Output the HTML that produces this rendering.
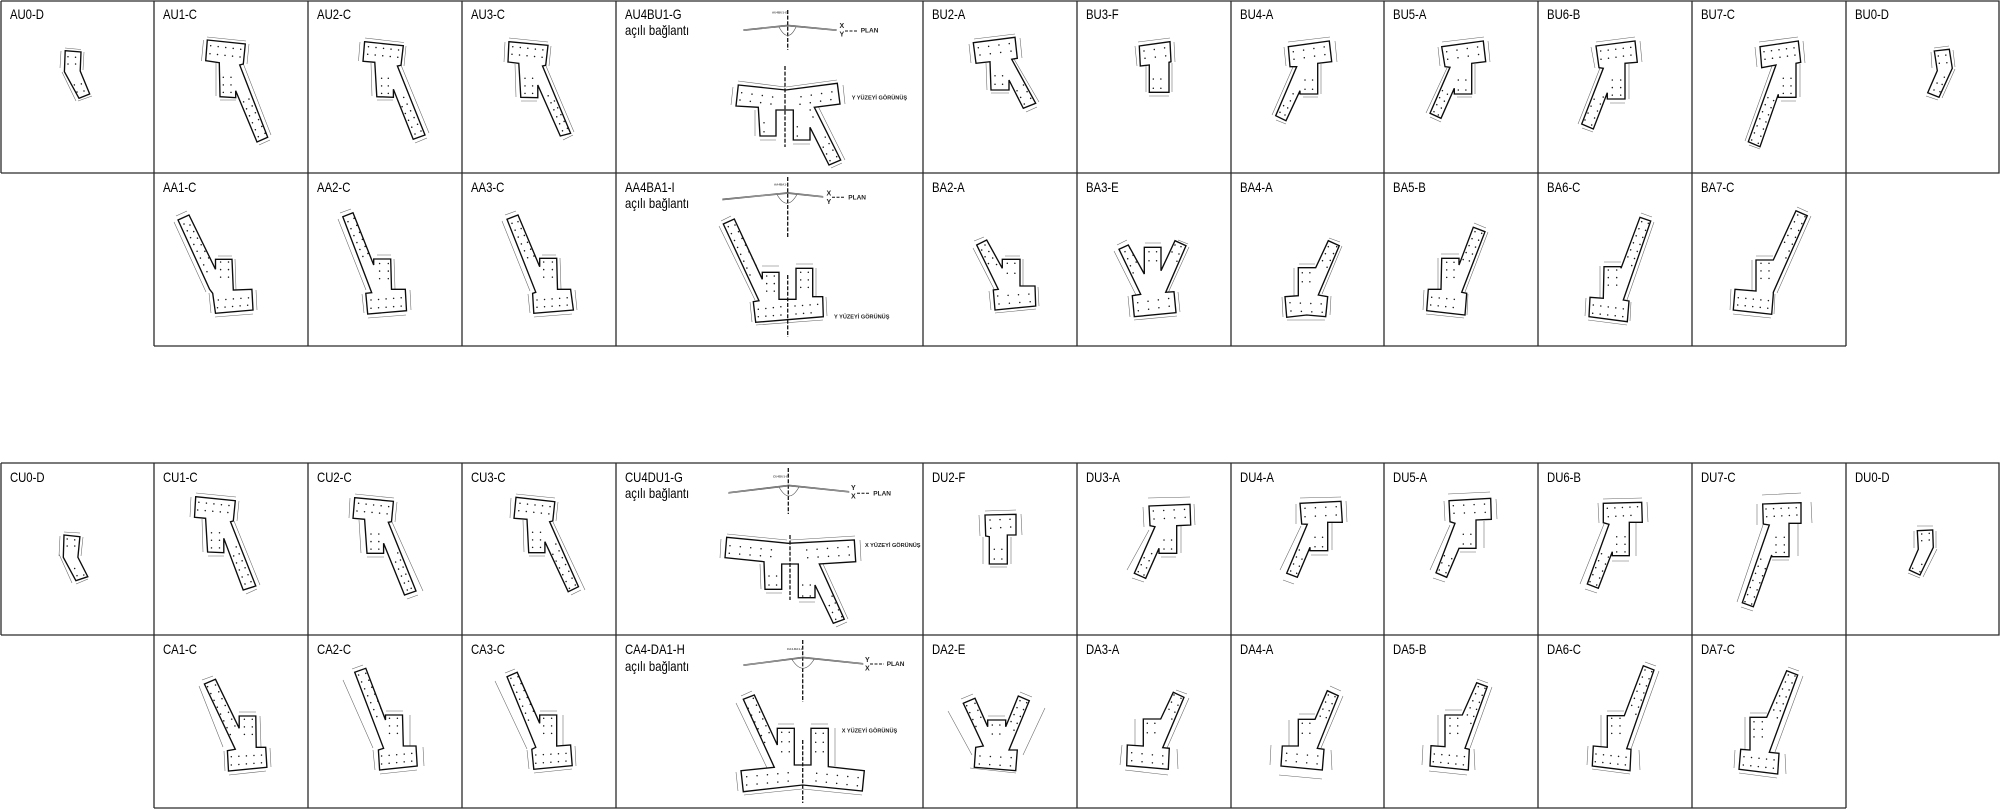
<!DOCTYPE html>
<html><head><meta charset="utf-8"><style>
html,body{margin:0;padding:0;background:#fff}
svg{display:block}
.g{fill:none;stroke:#2b2b2b;stroke-width:1.3}
.o{fill:#fff;stroke:#0c0c0c;stroke-width:1.35;stroke-linejoin:miter}
.a,.b{fill:none;stroke:#1a1a1a;stroke-width:1.5;stroke-linecap:round}
.a{stroke-dasharray:.01 7.55}
.b{stroke-dasharray:.01 10.4}
.m{fill:none;stroke:#666;stroke-width:.55}
.c{fill:none;stroke:#111;stroke-width:1.3;stroke-dasharray:4 1.6}
.p{fill:none;stroke:#555;stroke-width:.65}
.t text{font:14px "Liberation Sans",sans-serif;fill:#000}
.s{font:bold 5.6px "Liberation Sans",sans-serif;fill:#222}
.n{font:bold 7px "Liberation Sans",sans-serif;fill:#222}
.y{font:bold 3px "Liberation Sans",sans-serif;fill:#444}
</style></head><body>
<svg xmlns="http://www.w3.org/2000/svg" width="2000" height="809" viewBox="0 0 2000 809">
<rect width="2000" height="809" fill="#fff"/>
<path class="g" d="M1 1H1999V173H1M1 1V173M154 1V346M308 1V346M462 1V346M616 1V346M923 1V346M1077 1V346M1231 1V346M1384 1V346M1538 1V346M1692 1V346M1846 1V346M154 346H1846"/>
<path class="g" d="M1 463H1999V635H1M1 463V635M154 463V808M308 463V808M462 463V808M616 463V808M923 463V808M1077 463V808M1231 463V808M1384 463V808M1538 463V808M1692 463V808M1846 463V808M154 808H1846"/>

<g class="t" transform="scale(.81 1)">
<text x="12.3" y="19">AU0-D</text><text x="201.2" y="19">AU1-C</text><text x="391.4" y="19">AU2-C</text><text x="581.5" y="19">AU3-C</text><text x="771.6" y="19">AU4BU1-G</text><text x="771.6" y="35">açılı bağlantı</text><text x="1150.6" y="19">BU2-A</text><text x="1340.7" y="19">BU3-F</text><text x="1530.9" y="19">BU4-A</text><text x="1719.8" y="19">BU5-A</text><text x="1909.9" y="19">BU6-B</text><text x="2100" y="19">BU7-C</text><text x="2290.1" y="19">BU0-D</text>
<text x="201.2" y="192">AA1-C</text><text x="391.4" y="192">AA2-C</text><text x="581.5" y="192">AA3-C</text><text x="771.6" y="192">AA4BA1-I</text><text x="771.6" y="208">açılı bağlantı</text><text x="1150.6" y="192">BA2-A</text><text x="1340.7" y="192">BA3-E</text><text x="1530.9" y="192">BA4-A</text><text x="1719.8" y="192">BA5-B</text><text x="1909.9" y="192">BA6-C</text><text x="2100" y="192">BA7-C</text>
<text x="12.3" y="482">CU0-D</text><text x="201.2" y="482">CU1-C</text><text x="391.4" y="482">CU2-C</text><text x="581.5" y="482">CU3-C</text><text x="771.6" y="482">CU4DU1-G</text><text x="771.6" y="498">açılı bağlantı</text><text x="1150.6" y="482">DU2-F</text><text x="1340.7" y="482">DU3-A</text><text x="1530.9" y="482">DU4-A</text><text x="1719.8" y="482">DU5-A</text><text x="1909.9" y="482">DU6-B</text><text x="2100" y="482">DU7-C</text><text x="2290.1" y="482">DU0-D</text>
<text x="201.2" y="654">CA1-C</text><text x="391.4" y="654">CA2-C</text><text x="581.5" y="654">CA3-C</text><text x="771.6" y="654">CA4-DA1-H</text><text x="771.6" y="671">açılı bağlantı</text><text x="1150.6" y="654">DA2-E</text><text x="1340.7" y="654">DA3-A</text><text x="1530.9" y="654">DA4-A</text><text x="1719.8" y="654">DA5-B</text><text x="1909.9" y="654">DA6-C</text><text x="2100" y="654">DA7-C</text>
</g>

<!-- Row 1 -->
<path class="m" d="M65 48L81 49.5M61 51L60 68M62 72L76 101M84 52L83 70M78 101L92 96"/>
<polygon class="o" points="65.2,50.7 81,52 80.2,71 89.7,94 79,98.3 64.4,71.7"/>
<path class="a" d="M68 56.7L76 57.3M68 64L76 64M84 91L81 83M77 92L74 84"/>

<path class="m" d="M207 37L246 41M203.5 40L201.5 61M249 44L247 64M216 63L216 96M220 100L236 100M243 63L271 135M259 145L270 140"/>
<polygon class="o" points="207.3,40 245.3,44 243.3,64 239.7,65 267.7,137.3 257,142 235.7,90.7 235.7,97.7 220,96.7 219.3,62.7 205.7,60.7"/>
<path class="a" d="M210.7 45.7L241 49.3M210 53.7L240.4 57M223.3 77.3L223.3 93M231 77.3L231 93M265 133.3L246 92.7M258.3 136.7L242 98"/>

<path class="m" d="M365 38L404 42.5M360 42L358.5 61M406 46L404 66M371 63L372 96M377 100L393 100M401 65L429 133M415 143L427 138"/>
<polygon class="o" points="364.6,41.7 403.3,45.7 401,65.3 397.4,66 425,135 413.2,139.3 393.4,89.3 393.4,97.3 376.8,96.7 374.8,62.3 363,61.3"/>
<path class="a" d="M368.5 46.7L399 50M367.7 54.3L398 57.3M381.6 78.3L381.6 94M388.3 78.3L388.3 94M421 131L403 96M415 134L399 100"/>

<path class="m" d="M509 38L548 42M505 42L504 62M551 46L549 66M515 64L516 97M521 101L537 101M546 66L574 132M563 140L573 135"/>
<polygon class="o" points="508.9,41.7 548,45.3 545.7,65.3 542.5,66 570.6,133.3 560.3,136 537.8,85 537.8,97.7 520.8,97.3 518.8,63.3 508,62"/>
<path class="a" d="M512.8 46.7L543.7 50M512 54.3L542.5 57.3M525 78.3L525 94M532.6 78.3L532.6 94M567.4 128.3L551.6 95M562.5 130.8L547 93"/>

<path class="m" d="M738 81L785 87M786 87L837 80M733 87L731 105M843 85L845 104M755 110L755 136M760 140L776 140M793 144L810 144M818 106L845 160M831 168L842 163"/>
<polygon class="o" points="738.3,85 785.7,90 837.3,83.3 840,104 814.3,107.3 840.7,160 829,165 810,127.3 810,140 793.3,140 793.3,110 776,110 776,136 760,136 758.3,107.3 736,106"/>
<path class="b" d="M741.7 92.7L775 97.3M740 100L773.3 104.3M801 96.7L833.3 91.7M800 104.3L832.7 99.3M764 122.7L772.5 122.7M764 131.7L772.5 131.7M797.3 126.7L805.5 126.7M797.3 136L805.5 136"/>
<path class="a" d="M836.7 156.7L825 136.7M830 160.7L823 146.7M813 117L809 107"/>
<path class="c" d="M785 66V147M787.7 10V50"/>
<path class="p" d="M743.3 30.7L787.7 26L836.7 30.7M743.3 29.7L787.7 25L836.7 29.7M779 27Q788 44 796 27"/>
<text class="y" x="772" y="13.5">AU4BU1-G</text>
<text class="n" x="839.5" y="28">X</text><text class="n" x="839.5" y="36.5">Y</text>
<path d="M845 31H857" stroke="#111" stroke-width="1" stroke-dasharray="3 1.5"/>
<text class="s" x="860.7" y="32.5" style="font-size:6.5px">PLAN</text>
<text class="s" x="851.7" y="99.5">Y YÜZEYİ GÖRÜNÜŞ</text>

<path class="m" d="M974 39L1015 34M969 44L971 63M1020 38L1022 58M986 63L987 90M991 93L1009 93M1014 59L1039 102M1026 112L1037 107"/>
<polygon class="o" points="973.3,42.7 1015,37.3 1017.3,58.3 1011.7,59.3 1035.7,103.3 1023.3,108.3 1009,80 1009,90 991,90 990,61.7 976,63.3"/>
<path class="b" d="M978.3 47.7L1011.7 43.3M980 55L1012.3 51"/>
<path class="a" d="M995 75.7L1003 75.7M995 84.3L1003 84.3M1030.7 98.3L1021.7 81.7M1024.3 104L1015.7 88.3"/>

<path class="m" d="M1138 42L1170 38M1135 46L1137 66M1174 42L1175 62M1146 66L1146 92M1149 96L1169 96M1172 63L1172 92"/>
<polygon class="o" points="1139.3,46 1170,41.7 1171,61.7 1169,62.3 1169,92.3 1149.3,92.3 1149.3,65 1140.3,66"/>
<path class="b" d="M1144 51L1166 47.7M1145 58.3L1167 55.7"/>
<path class="a" d="M1153.3 79L1161.7 79M1153.3 88.3L1161.7 88.3"/>

<path class="m" d="M1288 42L1330 37M1284 47L1286 66M1335 41L1337 62M1321 64L1321 94M1303 97L1318 97M1293 67L1272 115M1276 120L1286 124"/>
<polygon class="o" points="1288.3,46.7 1329.3,41 1331.7,61.7 1317.7,63.3 1317.7,94 1300,94 1300,90.7 1286,120.7 1275.7,115.7 1296.7,66.7 1290,66.7"/>
<path class="b" d="M1293.3 51.7L1325.7 46.7M1294 59.3L1326.7 54.3"/>
<path class="a" d="M1305 80L1313 80M1305 89.3L1313 89.3M1285 115L1293.3 93.3M1280 112.3L1286.7 100"/>

<path class="m" d="M1442 42L1484 37M1438 47L1440 66M1488 41L1490 62M1475 64L1475 94M1457 97L1472 97M1447 68L1426 113M1430 117L1441 122"/>
<polygon class="o" points="1441.7,46.7 1483.3,41 1485.7,61.7 1471.7,63.3 1471.7,94 1454.3,94 1454.3,88.3 1441,118.3 1430,113.3 1450,67.3 1445,66.7"/>
<path class="b" d="M1446.7 51.7L1479.3 46.7M1447.7 59.3L1480 54.3"/>
<path class="a" d="M1458.3 80L1466.7 80M1458.3 90L1466.7 90M1438.3 115L1450 88.3M1434 111.7L1442.7 90"/>

<path class="m" d="M1596 42L1635 37M1591 47L1595 68M1640 41L1642 62M1629 64L1629 99M1610 103L1625 103M1600 68L1578 124M1582 128L1593 132"/>
<polygon class="o" points="1596,46 1635,41 1637.3,62.3 1625,63.3 1625,99 1607.3,99 1607.3,92.7 1593.3,129 1581.7,124 1603.3,68.3 1599,67.7"/>
<path class="a" d="M1600.7 51L1631.7 47.3M1601 59.3L1631.7 55M1612.3 80L1612.3 96M1620.7 80L1620.7 96M1591.7 125L1605 92.7M1585 120L1596.7 93.3"/>

<path class="m" d="M1759 42L1798 37M1755 47L1757 67M1803 41L1805 63M1800 64L1800 97M1781 101L1796 101M1772 66L1745 141M1749 145L1760 149"/>
<polygon class="o" points="1760,46.7 1798.3,41 1800.7,62.3 1796,63.3 1796,97.3 1778.3,97.3 1778.3,94.3 1760,146.7 1748.3,141.7 1776,65 1761.7,67.7"/>
<path class="a" d="M1764 51.7L1795 47.7M1765 59.3L1795.7 55M1783.3 78.3L1783.3 94.5M1791 78.3L1791 94.5M1758.3 143.3L1775 96.7M1751.7 140L1768.3 96.7"/>

<path class="m" d="M1934 48L1949 46M1931 52L1932 68M1953 50L1955 67M1955 69L1942 98M1926 96L1938 100"/>
<polygon class="o" points="1934.3,51 1949.3,49.3 1952.3,68.3 1939,97.3 1927.7,92.7 1937.3,70.7"/>
<path class="a" d="M1938.3 56L1946.7 55M1939.3 63.3L1947.3 62.7M1940 91.7L1945 75M1934 90L1938 81"/>

<!-- Row 2 -->
<path class="m" d="M176 216L187 211M174 222L206 292M218 256L232 256M235 259L236 290M256 290L257 310M215 317L253 314M209 293L211 313"/>
<polygon class="o" points="178,220 189,215 215.5,269.3 215.5,259.3 232,259.3 233.3,290 251.9,289.3 253,310 215.5,313.3 212.7,293.3 209.6,289.3"/>
<path class="a" d="M218.3 300L250.3 297.7M217.5 307.7L250.3 305M220.6 262L220.6 278.5M228.5 262L228.5 278.5M184 224L207.6 273M190 225L211.5 263"/>

<path class="m" d="M340 213L351 209M338 219L366 290M377 255L391 255M394 259L395 289M410 290L411 310M368 318L406 315M362 294L364 313"/>
<polygon class="o" points="342.8,216.7 353,212.7 373.7,265 373.7,259 390.7,259 391.5,289.3 405.3,289.3 406.5,310.7 367.7,314 365.8,293.3 371.7,292.7"/>
<path class="a" d="M371 300L402.5 297.7M371 308.3L402.5 306M379.6 263.5L379.6 279M388.3 263.5L388.3 279M348 221.7L365.8 263.3M354 218.3L369.7 258"/>

<path class="m" d="M505 215L516 211M502 221L530 291M542 255L556 255M560 258L561 289M575 290L577 310M534 317L572 314M528 294L530 313"/>
<polygon class="o" points="507,219.3 518,215 539.7,266.7 539.7,258.3 556.7,258.3 557.5,289.3 570.6,289.3 573.4,310 533.8,313.3 532.6,293.3 535.8,292.3"/>
<path class="a" d="M537 300L568.6 297.7M537 307.3L568.6 305M543.7 262L543.7 278.5M552.4 262L552.4 278.5M512 223.3L530 263M518 221.7L535.7 260"/>

<path class="m" d="M721 221L731 216M719 226L755 300M762 266L779 266M796 264L813 264M816 268L816 296M826 297L827 316M750 302L752 322M756 325L823 320"/>
<polygon class="o" points="723.3,224 734.3,219 762.3,279.3 762.3,272.3 779,272.3 779,299.3 796,299.3 796,268.3 812.7,268.3 812.7,296.7 822.7,296.7 823.3,316.7 755.7,322.3 753.3,301.7 759,300.7"/>
<path class="a" d="M758.3 309.3L781.7 306.7M758.3 316.7L781.7 315M795 306L818.3 304.3M796 314L818.3 312.3M766.7 276L766.7 292M774.3 276L774.3 292M800.7 272.3L800.7 289.5M808.3 272.3L808.3 289.5M728.3 226.7L750 275M735 225L756.7 266.7"/>
<path class="c" d="M787.7 275V337M787.7 177V238"/>
<path class="p" d="M722.3 200L787.7 193.5L823.3 197.3M722.3 199L787.7 192.5L823.3 196.3M777 194.5Q787 212 797 194.5"/>
<text class="y" x="774" y="185.5">AA4BA1-I</text>
<text class="n" x="826.5" y="195.5">X</text><text class="n" x="826.5" y="204">Y</text>
<path d="M832 197.3H845" stroke="#111" stroke-width="1" stroke-dasharray="3 1.5"/>
<text class="s" x="848.3" y="199.5" style="font-size:6.5px">PLAN</text>
<text class="s" x="834" y="318.5">Y YÜZEYİ GÖRÜNÜŞ</text>

<path class="m" d="M974 241L984 237M973 248L995 291M1005 256L1020 256M1023 259L1023 286M1038 287L1039 306M989 291L991 310M995 313L1036 309"/>
<polygon class="o" points="976.7,245 986.7,240 1002.3,268.3 1002.3,259.3 1020,259.3 1020,286 1035,286 1035.7,306 995,310 993.3,290 998.3,289.3"/>
<path class="b" d="M997.7 296L1030.7 294M999 304L1030.7 301.7"/>
<path class="a" d="M1007.3 263.3L1015 263.3M1007.3 273.3L1015 273.3M985 245L998 267M981.7 250L990 266.7"/>

<path class="m" d="M1117 245L1127 240M1114 251L1136 295M1145 243L1161 243M1178 240L1188 244M1189 247L1168 293M1178 292L1180 312M1128 296L1130 317M1134 320L1177 316"/>
<polygon class="o" points="1119,249.3 1128.3,245 1144.3,274 1144.3,247.3 1161,247.3 1161,270.7 1175,240.7 1186,245.7 1165.7,292.3 1174,291.7 1176,312.7 1134.3,316.7 1132.3,295.7 1140.7,294.3"/>
<path class="b" d="M1137.7 302.7L1170 298.3M1138.3 310.7L1170.7 306"/>
<path class="a" d="M1149 251.7L1157.3 251.7M1149 260.7L1157.3 260.7M1125 251.7L1133.3 273.3M1130 248.3L1136.7 263.3M1181 246.7L1175 268.3M1175 245L1169.3 258.3"/>

<path class="m" d="M1299 264L1315 264M1294 268L1294 296M1282 297L1283 317M1331 296L1330 315M1287 320L1325 320M1329 238L1340 242M1342 246L1322 294"/>
<polygon class="o" points="1285,296.7 1298.3,295.7 1298.3,267.7 1315.7,267.7 1328.3,240.7 1339.3,245.7 1318.3,295 1327.7,296.7 1325.7,316.7 1306.7,315 1286.7,317.3"/>
<path class="b" d="M1290 302.7L1323.3 304M1291 311L1323.3 312.3"/>
<path class="a" d="M1302.3 272.7L1310.7 272.7M1302.3 281.7L1310.7 281.7M1336.7 246.7L1325 271.7M1328.3 246.7L1320 266.7"/>

<path class="m" d="M1441 254L1459 254M1438 258L1438 289M1424 290L1423 310M1426 314L1464 318M1468 294L1467 315M1474 223L1486 228M1488 232L1465 292"/>
<polygon class="o" points="1428.3,289.3 1441,289.3 1441.7,258.3 1459,258.3 1459,265 1473.3,227.3 1485,231.7 1461.7,292.3 1466.7,293.3 1465,315 1426.7,310.7"/>
<path class="a" d="M1431.7 297.3L1461.7 300M1430.7 305L1460.7 308.3M1446.7 262.3L1446.7 278M1454 262.3L1454 278M1481.7 233.3L1468.3 263.3M1475 231.7L1463 260"/>

<path class="m" d="M1604 262L1621 262M1600 266L1600 298M1586 298L1585 316M1588 320L1627 325M1631 302L1630 321M1641 213L1652 217M1654 222L1627 300"/>
<polygon class="o" points="1590,297.3 1603.3,298.3 1604,266.7 1621,266.7 1621,268.3 1640,217.3 1650.7,221 1623.3,300 1629,301 1627.3,321.7 1589,316.7"/>
<path class="a" d="M1593.3 305L1624.3 309M1592.7 313.3L1623.3 316.7M1608.3 270L1608.3 286.5M1616.7 270L1616.7 286.5M1648.3 223.3L1630 270M1641.7 221.7L1626.7 260"/>

<path class="m" d="M1756 256L1773 256M1752 260L1752 291M1731 289L1730 310M1733 314L1771 318M1775 294L1774 314M1797 207L1808 212M1811 216L1777 293"/>
<polygon class="o" points="1735,289.3 1756,291 1756,260 1773.3,260 1796,210.7 1807.3,215.7 1773.3,292.3 1773.3,294.3 1771.7,314.3 1733.3,310"/>
<path class="a" d="M1738.3 297.7L1769.3 300.7M1737.7 305L1768.7 308.3M1761 263.3L1761 279M1769 263.3L1769 279M1805 216.7L1785 260M1797.7 215L1781.7 248.3"/>

<!-- Row 3 -->
<path class="m" d="M64 532L80 533M60 536L59 556M83 537L81 556M59 554L72 583M76 584L88 579"/>
<polygon class="o" points="64,535 79.9,536.7 77.9,557.3 87.8,576.7 75.9,580.7 63.3,557.3"/>
<path class="a" d="M67.2 539L75.9 540M67.2 546L75 546M83.8 575L81 569.3M77 575.7L74.3 567.3"/>

<path class="m" d="M196 493L236 497M191 497L190 517M239 501L237 521M202 519L203 552M208 556L224 556M234 521L260 585M246 594L257 589"/>
<polygon class="o" points="195.7,496.7 235.3,500.7 233.3,521 230.5,521.7 255.8,586 243.2,590 223.8,538.3 223.8,552.7 207.6,552 205.6,518.3 194.5,517.3"/>
<path class="a" d="M198.9 502.3L230.5 505.7M197.7 510L230 512.7M211.5 532.7L211.5 549M219.5 532.7L219.5 549M251 581.7L233.3 540M245 584L231.3 550"/>

<path class="m" d="M355 494L394 498M350 498L349 518M397 502L395 522M359 520L361 553M367 557L384 557M392 522L423 591M407 599L418 595"/>
<polygon class="o" points="354.7,497.7 393.4,501.3 391.5,521.7 388.3,522.3 416,591 404.5,595 383.6,543.3 383.6,553.3 367,553.3 364.6,519.3 353,518.3"/>
<path class="a" d="M358.6 503.3L389.5 506.7M357 511L388.7 514M371 534L371 550M378.8 534L378.8 550M411.2 588.3L395.4 546.7M407.3 590L393.4 556.7"/>

<path class="m" d="M516 494L555 498M511 498L510 518M558 502L556 521M523 520L524 552M529 556L545 556M553 522L585 590M571 595L581 590"/>
<polygon class="o" points="516,497.3 554.8,501.7 552.8,521 549.6,521.7 578.5,586.7 568.2,591.7 544.9,541.7 544.9,552.7 528.7,552.7 527,519.3 514,518.3"/>
<path class="a" d="M520 503.3L550.8 506.7M518.8 510.7L549.6 514M532.6 532.3L532.6 548.5M540.5 532.3L540.5 548.5M575.3 585L555.5 543.3M569.4 588.3L551.6 551.7"/>

<path class="m" d="M727 534L787 540M790 540L855 536M860 540L861 561M721 539L720 558M760 564L761 589M766 593L782 593M799 602L815 602M823 564L848 619M836 627L847 622"/>
<polygon class="o" points="726.7,537.3 788.3,543.3 854.3,540 855.7,561.7 819.3,564 844.3,619.3 833.3,623.3 815,585 815,597.7 798.3,597.7 798.3,564 781.7,564 781.7,589.3 765,589.3 764,561.7 725,557.7"/>
<path class="b" d="M730 545.7L773.3 550M729.3 553.3L772.3 556.7M806.7 550L850 546.7M807.7 557.7L850 555"/>
<path class="a" d="M769 576L777.7 576M769 585L777.7 585M802.7 585L811.7 585M802.7 596L811.7 596M841.7 616.7L830 591.7M835.7 619.3L826.7 600"/>
<path class="c" d="M790 535V600M788.3 468V514"/>
<path class="p" d="M728.3 493.3L789 486L849.3 492.3M728.3 492.3L789 485L849.3 491.3M779 487Q789 505 799 487"/>
<text class="y" x="773" y="477.5">CU4DU1-G</text>
<text class="n" x="851" y="490">Y</text><text class="n" x="851" y="498.5">X</text>
<path d="M857 493.3H870" stroke="#111" stroke-width="1" stroke-dasharray="3 1.5"/>
<text class="s" x="873.3" y="495.5" style="font-size:6.5px">PLAN</text>
<text class="s" x="865" y="547">X YÜZEYİ GÖRÜNÜŞ</text>

<path class="m" d="M985 511L1016 510M979 515L980 536M1021 514L1022 535M983 537L983 564M1011 537L1011 564M990 567L1007 567"/>
<polygon class="o" points="985,515 1016,514.3 1016,535 1007.3,535 1007.3,564 989.3,564 989.3,536.7 985.7,536"/>
<path class="b" style="stroke-dasharray:.01 10" d="M990 520L1010.3 519.3M990.7 528.3L1011.3 527"/>
<path class="a" d="M994.3 549.3L1002.3 549.3M994.3 559L1002.3 559"/>

<path class="m" d="M1148 498L1190 497M1143 507L1144 527M1194 504L1195 525M1181 526L1181 553M1161 557L1176 557M1149 530L1127 570M1132 578L1144 582"/>
<polygon class="o" points="1149,506 1190,504.3 1190.7,525 1176.7,525.7 1176.7,553.3 1159,553.3 1159,548.3 1145.7,578.3 1134.3,573.3 1155,526.7 1150,525.7"/>
<path class="b" d="M1153.3 511L1185.7 509.3M1154 519L1186 517.3"/>
<path class="a" d="M1164 540L1172 540M1164 549L1172 549M1144 575L1152.7 550.7M1138.3 571.7L1146.7 551.7"/>

<path class="m" d="M1300 498L1341 497M1296 504L1296 524M1346 501L1347 522M1332 523L1332 550M1311 555L1328 555M1301 526L1280 570M1283 580L1294 584"/>
<polygon class="o" points="1300,503.3 1341,501.3 1342.3,522.3 1327.7,522.3 1327.7,550.7 1310,550.7 1310,547.3 1297.3,577.3 1286.7,573.3 1307.3,524.3 1301.7,524"/>
<path class="b" d="M1305 508.3L1337.3 506.7M1305 516.7L1337.3 515"/>
<path class="a" d="M1315 537.3L1323.3 537.3M1315 546.7L1323.3 546.7M1296.7 573.3L1302.3 558.3M1290.7 571L1299.3 550"/>

<path class="m" d="M1448 494L1490 492M1444 501L1445 521M1496 499L1497 519M1484 521L1484 548M1460 552L1476 552M1450 525L1430 570M1433 578L1445 582"/>
<polygon class="o" points="1449,500.7 1490.7,498.3 1491.3,519.3 1476,520 1476,548.3 1459,548.3 1446.7,577.3 1436,572.7 1455,523.3 1450,521.7"/>
<path class="b" d="M1453.3 505.7L1486 504M1454 513.3L1486.7 512.3"/>
<path class="a" d="M1463.3 534.3L1471 534.3M1463.3 544L1471 544M1446 572.7L1453.3 555M1439.3 570L1446.7 549.3"/>

<path class="m" d="M1603 499L1642 498M1598 503L1599 523M1647 502L1648 522M1636 523L1636 556M1612 561L1629 561M1604 524L1580 584M1585 589L1597 593"/>
<polygon class="o" points="1603.3,503.3 1641.7,502.3 1642.3,522.3 1629.3,522.3 1629.3,555.7 1612.3,555.7 1612.3,551.7 1598.3,588.3 1587.3,584 1609,524.3 1603.3,522.7"/>
<path class="a" d="M1607.3 508.3L1638.3 506.7M1608.3 516.7L1638.3 515M1616.7 536.7L1616.7 553M1625 536.7L1625 553M1596.7 585L1610 553.3M1590 581.7L1601.7 553.3"/>

<path class="m" d="M1762 495L1801 493M1757 504L1757 525M1811 502L1812 523M1798 523L1798 556M1772 560L1789 560M1763 525L1737 602M1741 607L1753 611"/>
<polygon class="o" points="1762.7,504 1801,502.7 1801,523.3 1789,523.3 1789,556.7 1771.7,556.7 1771.7,555 1753.3,606.7 1742.3,602.7 1769.3,525 1763.3,524"/>
<path class="a" d="M1766 509L1797.3 507.7M1766.7 516.7L1797.7 515M1776 537.3L1776 553.5M1784.3 537.3L1784.3 553.5M1751.7 604L1766.7 565M1745 601.7L1761.7 556.7"/>

<path class="m" d="M1917 526L1933 526M1914 531L1914 548M1936 531L1936 548M1937 549L1923 577M1908 573L1920 578"/>
<polygon class="o" points="1917.3,530.7 1932.7,530 1933.3,547.3 1920,575 1909.3,570 1918.3,549.3"/>
<path class="a" d="M1921.7 534L1930 533.3M1921.7 540.7L1929.3 540M1920 571.7L1923.3 558.3M1912.7 568.3L1916.7 563.3"/>

<!-- Row 4 -->
<path class="m" d="M202 680L213 676M199 686L223 747M239 712L256 712M260 716L261 747M270 748L271 767M229 775L266 771M224 751L225 771"/>
<polygon class="o" points="204.4,684 215.5,679.3 239.2,728.3 239.2,716 255.8,716 256.2,747.3 265.7,747.3 266.9,767.3 228.5,771 227.4,750.7 235.3,749.3"/>
<path class="a" d="M231.3 756.7L263.7 755M231.3 765L263 762.7M244.4 719.3L244.4 736M252.3 719.3L252.3 736M207.6 686.7L231.3 736.7M215.5 685L235.3 726.7"/>

<path class="m" d="M352 669L363 665M343 680L373 748M386 711L403 711M410 715L410 746M423 747L424 766M380 774L417 770M373 750L375 770"/>
<polygon class="o" points="354.7,672.3 365.8,668.3 385.5,720 385.5,715 402.5,715 403.3,746 416,746 417.2,766 379.6,770 378.4,750 383.6,748.3"/>
<path class="a" d="M381.6 756L413.2 753.3M381.6 764L413.2 761M389.5 718.3L389.5 734.5M397.4 718.3L397.4 734.5M358.6 675L377.6 718.3M365.8 673.3L381.6 710"/>

<path class="m" d="M505 673L515 669M495 681L527 749M540 711L557 711M563 715L563 746M575 746L576 766M534 773L572 769M527 750L529 769"/>
<polygon class="o" points="507,676.7 517.2,672.3 539.7,723.3 539.7,715 556.7,715 556.7,746 570.6,745 572.2,765.7 533.8,769.3 531.8,749.3 535.8,747.3"/>
<path class="a" d="M535.8 755L567.4 753.3M535.8 763.3L567.4 761M543.7 718.3L543.7 735M551.6 718.3L551.6 735M510.9 678.3L529.8 723.3M518 676.7L535.8 716.7"/>

<path class="m" d="M741 696L752 691M736 703L768 770M778 724L794 724M811 724L828 724M835 728L835 766M736 772L738 791M744 795L802 789M803 789L862 795"/>
<polygon class="o" points="743.3,699.3 754.3,695 777.3,745 777.3,728.3 794.3,728.3 794.3,765 811,765 811,728.3 828.3,728.3 828.3,766.7 864.3,770.7 862.3,791 802.7,785 743.3,791.7 741,770.7 774.3,767.3"/>
<path class="b" d="M746.7 776.7L789 772.7M746.7 785L789 781M816.7 773.3L859.3 777.7M816 781L859.3 786"/>
<path class="a" d="M781.7 732.3L790 732.3M781.7 741.7L790 741.7M781.7 751.7L790 751.7M815.7 733.3L824 733.3M815.7 742.3L824 742.3M815.7 751.7L824 751.7M748.3 708.3L766.7 746.7M753.3 698.3L771.7 738.3"/>
<path class="c" d="M802.7 740V803M802.7 640V702"/>
<path class="p" d="M743.3 665.7L803 658L863.3 664.3M743.3 664.7L803 657L863.3 663.3M792 659.5Q803 677 814 659.5"/>
<text class="y" x="787" y="650">CA4-DA1-H</text>
<text class="n" x="865" y="662">Y</text><text class="n" x="865" y="670.5">X</text>
<path d="M870 664H884" stroke="#111" stroke-width="1" stroke-dasharray="3 1.5"/>
<text class="s" x="886.7" y="666" style="font-size:6.5px">PLAN</text>
<text class="s" x="841.7" y="732.5">X YÜZEYİ GÖRÜNÜŞ</text>

<path class="m" d="M961 699L973 694M948 711L972 755M988 716L1005 716M1020 692L1032 697M1045 708L1023 755M970 768L1016 773"/>
<polygon class="o" points="963.3,703.3 975,698.3 987.7,726.7 987.7,720 1005.7,720 1005.7,726.7 1018.3,696 1029.3,700.7 1009,750 1017.3,750 1015.7,770.7 974.3,767.3 975.7,747.3 983.3,746"/>
<path class="b" d="M980 756L1011.7 757.7M979.3 764L1011.7 766"/>
<path class="a" d="M992.3 725L1000.7 725M992.3 734L1000.7 734M966.7 705.7L978.3 731.7M975 703.3L983.3 723.3M1026.7 702.7L1013.3 731.7M1020 700.7L1011 721.7"/>

<path class="m" d="M1135 719L1135 746M1122 745L1120 765M1125 770L1168 775M1177 749L1178 769M1176 690L1187 694M1189 698L1167 748"/>
<polygon class="o" points="1127.3,745 1143.3,746 1143.3,719 1160.7,719 1173.3,692.3 1184,697.3 1162.7,747.7 1169.3,748.3 1168.3,769.3 1126.7,765.7"/>
<path class="b" d="M1131.7 752.7L1164 756M1131.7 760.7L1164 764"/>
<path class="a" d="M1147.3 723.3L1155.7 723.3M1147.3 732.7L1155.7 732.7M1181 698.3L1170 723.3M1174 695L1166.7 716"/>

<path class="m" d="M1299 714L1315 714M1289 720L1289 746M1271 745L1270 765M1279 775L1322 779M1331 750L1332 770M1330 686L1341 691M1343 696L1321 748"/>
<polygon class="o" points="1282.3,746 1298.3,746 1298.3,719.3 1315,719.3 1327.3,690.7 1338.3,695.7 1317.3,748.3 1324,749.3 1322.3,770 1281,766"/>
<path class="b" d="M1286.7 753.3L1318.3 756M1286 760.7L1318.3 764"/>
<path class="a" d="M1302.3 723.3L1310.7 723.3M1302.3 733.3L1310.7 733.3M1335 696.7L1326 718.3M1328.3 695L1320 716.7"/>

<path class="m" d="M1445 710L1462 710M1438 715L1438 746M1423 745L1422 765M1429 771L1467 775M1474 749L1475 770M1477 679L1488 683M1492 687L1470 748"/>
<polygon class="o" points="1431,745.7 1445,746.7 1445,715 1462.3,715 1476.7,682.7 1487.3,686.7 1465,748.3 1469.3,749.3 1468.3,770 1430,766"/>
<path class="a" d="M1434.3 754L1465.7 756.7M1433.3 761.7L1465 765M1450 718.3L1450 735M1457.7 718.3L1457.7 735M1485 688.3L1468.3 730M1478.3 686.7L1466.7 716.7"/>

<path class="m" d="M1607 711L1624 711M1601 715L1601 746M1588 746L1587 765M1592 769L1630 774M1639 750L1640 770M1645 662L1656 666M1659 671L1631 749"/>
<polygon class="o" points="1593.3,746 1607.3,747.3 1607.3,715.7 1624.3,715.7 1643.3,665.7 1654,670 1626.7,748.7 1631,749.3 1630,770.7 1592.3,766"/>
<path class="a" d="M1596 754L1626.7 757.3M1595.3 761.7L1626 765M1611.7 718.3L1611.7 735M1620 718.3L1620 735M1651.7 671.7L1635 716.7M1645 670L1630 710"/>

<path class="m" d="M1750 713L1767 713M1745 717L1745 749M1735 750L1734 768M1739 773L1777 778M1785 754L1786 774M1788 667L1799 671M1803 676L1775 752"/>
<polygon class="o" points="1740.7,749.3 1750,750 1750,717.3 1766.7,717.3 1786.7,670.7 1797.7,675 1769.3,752.3 1779,753.3 1777.7,774 1739,769.3"/>
<path class="a" d="M1744 756.7L1775 760M1743.3 765L1774.3 768.3M1754 721.7L1754 738M1762.3 721.7L1762.3 738M1795 676L1775 723.3M1788.3 675L1771.7 715"/>
</svg>
</body></html>
